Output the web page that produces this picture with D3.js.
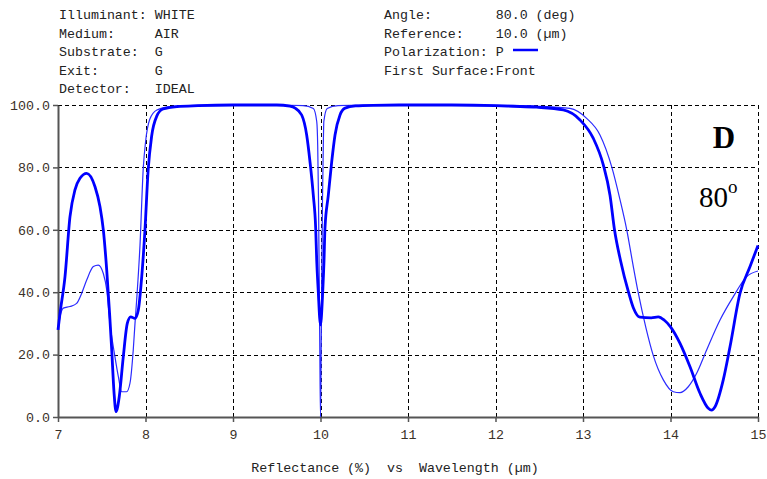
<!DOCTYPE html>
<html>
<head>
<meta charset="utf-8">
<script src="https://cdn.jsdelivr.net/npm/d3@7"></script>
<style>
  body { margin: 0; background: #fff; }
  text { font-family: "Liberation Mono", "Courier New", monospace; }
</style>
</head>
<body>
<svg id="chart" width="767" height="479"></svg>
<script>
"use strict";

// header lines (left and right columns)
var headerLeft = ["Illuminant: WHITE", "Medium:     AIR", "Substrate:  G", "Exit:       G", "Detector:   IDEAL"];
var headerRight = ["Angle:        80.0 (deg)", "Reference:    10.0 (\u00b5m)", "Polarization: P", "First Surface:Front"];

var xTicks = [7, 8, 9, 10, 11, 12, 13, 14, 15];
var yTicks = [0, 20, 40, 60, 80, 100];

// thick curve (P polarization)
var wlThick = [7.00, 7.023, 7.08, 7.137, 7.194, 7.251, 7.328, 7.423, 7.48, 7.518, 7.557, 7.59, 7.614, 7.64, 7.663, 7.70, 7.746, 7.792, 7.831, 7.88, 7.918, 7.957, 7.994, 8.03, 8.07, 8.13, 8.2, 8.36, 8.6, 9.0, 9.5, 9.65, 9.71, 9.785, 9.842, 9.88, 9.918, 9.945, 9.957, 9.975, 9.99, 10.0, 10.01, 10.025, 10.04, 10.051, 10.089, 10.128, 10.166, 10.223, 10.28, 10.4, 10.6, 11.0, 11.5, 12.0, 12.2, 12.47, 12.775, 12.966, 13.118, 13.232, 13.309, 13.36, 13.43, 13.52, 13.575, 13.65, 13.78, 13.861, 13.93, 14.0, 14.109, 14.223, 14.337, 14.432, 14.47, 14.509, 14.603, 14.68, 14.794, 14.909, 15.0];
var rThick = [27.9, 33.2, 45, 64.2, 72.8, 76.5, 78.1, 73.8, 67.4, 60, 47, 33, 21.5, 8, 1.7, 6.5, 19.3, 30, 32.1, 31.6, 34.3, 45, 60, 79, 90, 96.5, 98.7, 99.5, 99.8, 100, 100, 99.6, 99.0, 96.8, 90.4, 81.8, 71, 60.5, 50, 40, 32, 29.5, 32, 40, 50, 60.5, 71, 81.8, 90.4, 96.8, 99, 99.7, 99.9, 100, 100, 99.8, 99.6, 99.3, 98.4, 95.2, 89.3, 80.8, 71, 60, 50, 40, 35, 32, 31.8, 32.1, 31, 28.9, 23.6, 16.1, 7.6, 2.8, 2.2, 3.3, 11.9, 22.5, 39.6, 48.2, 55];

// thin curve
var wlThin = [7.00, 7.023, 7.061, 7.137, 7.213, 7.27, 7.328, 7.404, 7.46, 7.518, 7.557, 7.594, 7.651, 7.69, 7.727, 7.784, 7.823, 7.86, 7.88, 7.899, 7.937, 7.975, 8.0, 8.05, 8.13, 8.28, 8.6, 9.0, 9.5, 9.8, 9.918, 9.957, 9.968, 9.977, 9.985, 9.992, 10.0, 10.008, 10.015, 10.023, 10.032, 10.038, 10.077, 10.2, 10.5, 11.0, 12.0, 12.5, 12.851, 13.042, 13.194, 13.33, 13.42, 13.5, 13.57, 13.63, 13.72, 13.8, 13.918, 14.032, 14.109, 14.203, 14.299, 14.413, 14.566, 14.718, 14.871, 15.0];
var rThin = [28, 32.1, 34.9, 35.4, 36.4, 39.6, 43.9, 48.2, 48.7, 46, 40.7, 30, 19.3, 12.9, 8.1, 8.1, 10.9, 21.5, 30, 37.5, 55, 80, 88, 95.5, 98.4, 99.5, 99.9, 100, 100, 99.8, 98.9, 94.7, 87, 70, 45, 22, 0, 22, 45, 70, 87, 94.7, 98.9, 99.8, 100, 100, 99.9, 99.6, 98.9, 95.7, 90.4, 80, 70, 60, 49, 40, 28.5, 20, 11.9, 8.1, 7.8, 9.7, 14, 21.5, 31.1, 38.6, 45, 46.8];

var svg = d3.select("#chart");

var x = d3.scaleLinear().domain([7, 15]).range([58, 758]);
var y = d3.scaleLinear().domain([0, 100]).range([417, 105]);

// header text
var head = svg.append("g").attr("fill", "#222").style("font-size", "13.3px").style("white-space", "pre");
head.selectAll("text.hl")
  .data(headerLeft)
  .enter().append("text")
  .attr("x", 59)
  .attr("y", function(d, i) { return 19 + i * 18.6; })
  .attr("xml:space", "preserve")
  .text(function(d) { return d; });
head.selectAll("text.hr")
  .data(headerRight)
  .enter().append("text")
  .attr("x", 384)
  .attr("y", function(d, i) { return 19 + i * 18.6; })
  .attr("xml:space", "preserve")
  .text(function(d) { return d; });
svg.append("line")
  .attr("x1", 513).attr("x2", 538)
  .attr("y1", 50).attr("y2", 50)
  .attr("stroke", "#0000ff")
  .attr("stroke-width", 2.5);

// grid
var grid = svg.append("g").attr("stroke", "#000").attr("stroke-dasharray", "4,3").attr("shape-rendering", "crispEdges");
grid.selectAll("line.h")
  .data(yTicks.filter(function(d) { return d > 0; }))
  .enter().append("line")
  .attr("x1", x(7)).attr("x2", x(15))
  .attr("y1", function(d) { return Math.round(y(d)) + 0.5; })
  .attr("y2", function(d) { return Math.round(y(d)) + 0.5; });
grid.selectAll("line.v")
  .data(xTicks.filter(function(d) { return d > 7; }))
  .enter().append("line")
  .attr("y1", y(100)).attr("y2", y(0))
  .attr("x1", function(d) { return Math.round(x(d)) + 0.5; })
  .attr("x2", function(d) { return Math.round(x(d)) + 0.5; });

// axes
var yAxis = svg.append("g")
  .attr("transform", "translate(" + x(7) + ",0)")
  .call(d3.axisLeft(y).tickValues(yTicks).tickFormat(d3.format(".1f")).tickSize(5).tickSizeOuter(0).tickPadding(3));
var xAxis = svg.append("g")
  .attr("transform", "translate(0," + y(0) + ")")
  .call(d3.axisBottom(x).tickValues(xTicks).tickFormat(d3.format("d")).tickSize(5).tickSizeOuter(0).tickPadding(8));
[yAxis, xAxis].forEach(function(a) {
  a.select(".domain").attr("stroke", "#555").attr("stroke-width", 2);
  a.selectAll(".tick line").attr("stroke", "#555").attr("stroke-width", 1.5);
  a.selectAll(".tick text")
    .attr("fill", "#3a3128")
    .style("font-family", "'Liberation Mono', 'Courier New', monospace")
    .style("font-size", "13.3px");
});

// curves
var line = d3.line().curve(d3.curveMonotoneX);
svg.append("path")
  .datum(d3.zip(wlThin, rThin))
  .attr("d", line.x(function(d) { return x(d[0]); }).y(function(d) { return y(d[1]); }))
  .attr("fill", "none")
  .attr("stroke", "#2b2bff")
  .attr("stroke-width", 1.2);
svg.append("path")
  .datum(d3.zip(wlThick, rThick))
  .attr("d", line)
  .attr("fill", "none")
  .attr("stroke", "#0000ff")
  .attr("stroke-width", 2.8)
  .attr("stroke-linejoin", "round");

// panel labels
svg.append("text")
  .attr("x", 724).attr("y", 148)
  .attr("text-anchor", "middle")
  .style("font-family", "'Liberation Serif', 'Times New Roman', serif")
  .style("font-size", "31px")
  .style("font-weight", "bold")
  .text("D");
var deg = svg.append("text")
  .attr("x", 699).attr("y", 207)
  .style("font-family", "'Liberation Serif', 'Times New Roman', serif")
  .style("font-size", "29px");
deg.append("tspan").text("80");
deg.append("tspan").attr("dy", -14).style("font-size", "19px").text("o");

// x title
svg.append("text")
  .attr("x", 395).attr("y", 472)
  .attr("text-anchor", "middle")
  .attr("xml:space", "preserve")
  .style("white-space", "pre")
  .attr("fill", "#222")
  .style("font-size", "13.3px")
  .text("Reflectance (%)  vs  Wavelength (\u00b5m)");
</script>
</body>
</html>
